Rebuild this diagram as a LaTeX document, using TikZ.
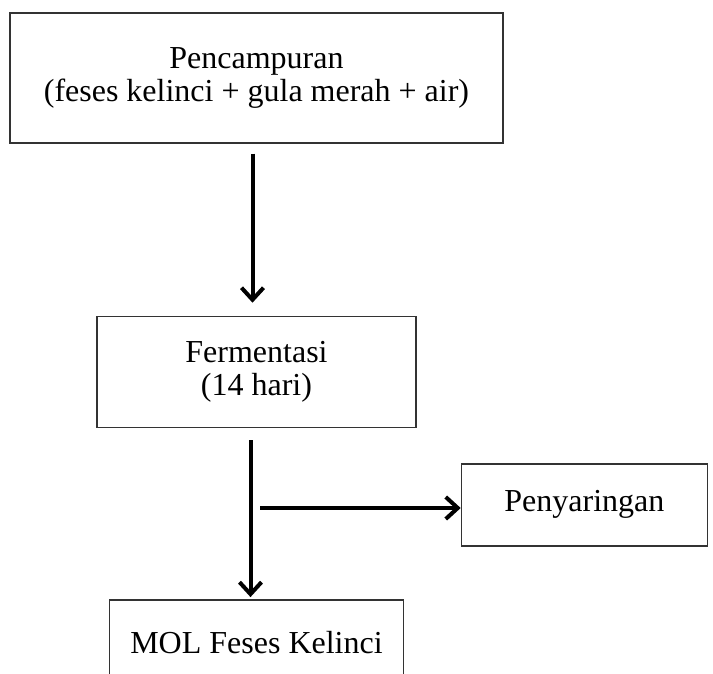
\documentclass[tikz,border=0pt]{standalone}
\usepackage{fontspec}
\setmainfont{Liberation Serif}
\usetikzlibrary{positioning}
\usetikzlibrary{arrows.meta}

\begin{document}
\begin{tikzpicture} [x=0.5pt, y=-0.5pt,
        box/.style = {draw=black!80, line width=0.7pt, align=center, inner sep=0pt, font=\fontsize{16}{16.5}\selectfont},
        arr/.style = {line width=2pt, -{Straight Barb[length=6pt, width=11pt]}}]
        \clip (0,0) rectangle (713,674);

        %Knoten
        \node[box, minimum width=246.5pt, minimum height=65pt] (mix) at (256.5,78) {Pencampuran\\(feses kelinci + gula merah + air)};
        \node[box, minimum width=159.5pt, minimum height=55.5pt] (ferm) [below = 86pt of mix] {Fermentasi\\(14 hari)};
        \node[box, minimum width=123pt, minimum height=41pt] (saring) [below right = 17.5pt and 22pt of ferm] {Penyaringan};
        \node[box, minimum width=147pt, minimum height=43pt] (mol) [below = 85.5pt of ferm] {MOL Feses Kelinci};

        \coordinate (split) at (260,508);

        %Kanten
        \draw[arr, shorten <=5pt, shorten >=6.5pt] ([xshift=-2pt]mix.south) -- ([xshift=-2pt]ferm.north);
        \draw[arr, shorten <=6pt, shorten >=1pt] ([xshift=-3pt]ferm.south) -- ([xshift=-3pt]mol.north);
        \draw[arr] (split) -- (split -| saring.west);

    \end{tikzpicture}
\end{document}
